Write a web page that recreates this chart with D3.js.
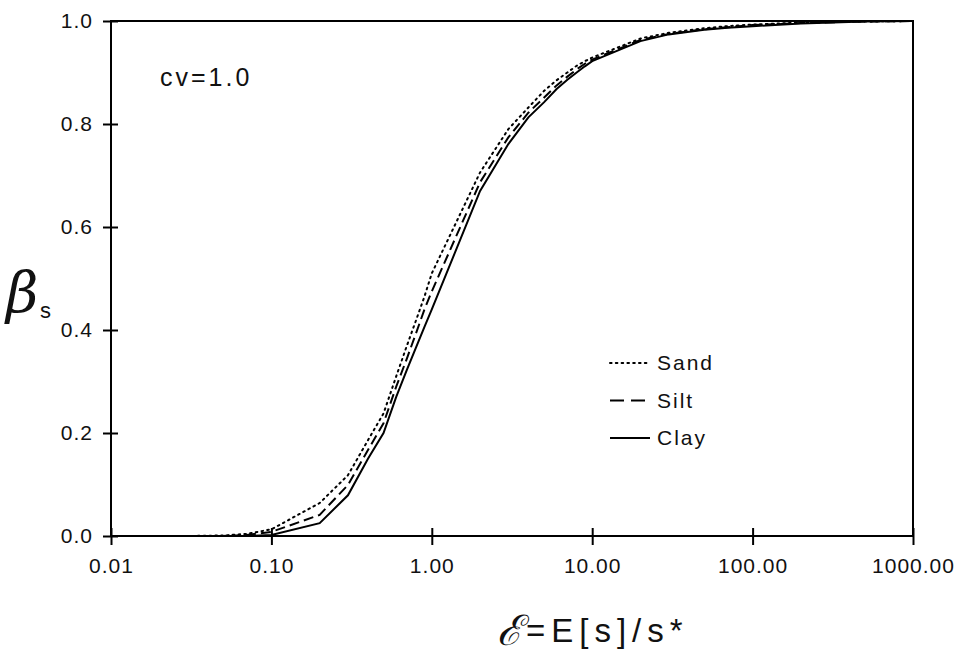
<!DOCTYPE html>
<html>
<head>
<meta charset="utf-8">
<script src="https://cdn.jsdelivr.net/npm/d3@7"></script>
<style>
  html, body { margin: 0; padding: 0; background: #fff; }
  svg { display: block; }
</style>
</head>
<body>
<svg id="chart" width="963" height="659"></svg>
<script>
'use strict';

// ── data ────────────────────────────────────────────────────────────────────
const ratio = [0.01, 0.02, 0.03, 0.05, 0.07, 0.1, 0.2, 0.3, 0.4, 0.5, 0.6, 0.7, 0.8, 0.9,
  1, 2, 3, 4, 5, 6, 7, 8, 9, 10, 20, 30, 50, 70, 100, 200, 500, 1000];

const sand = [0, 0, 0, 0.001, 0.004, 0.013, 0.064, 0.118, 0.186, 0.238, 0.31, 0.37, 0.42, 0.465,
  0.51, 0.706, 0.79, 0.832, 0.864, 0.885, 0.9, 0.913, 0.922, 0.929, 0.966, 0.977, 0.986, 0.99,
  0.993, 0.997, 0.999, 1.0];
const silt = [0, 0, 0, 0, 0.002, 0.008, 0.041, 0.099, 0.167, 0.219, 0.29, 0.345, 0.395, 0.44,
  0.475, 0.687, 0.774, 0.822, 0.851, 0.875, 0.892, 0.906, 0.917, 0.925, 0.963, 0.975, 0.984, 0.988,
  0.992, 0.996, 0.999, 1.0];
const clay = [0, 0, 0, 0, 0, 0.002, 0.025, 0.079, 0.15, 0.2, 0.27, 0.323, 0.367, 0.406,
  0.44, 0.67, 0.761, 0.813, 0.842, 0.868, 0.886, 0.9, 0.912, 0.922, 0.961, 0.974, 0.983, 0.987,
  0.99, 0.995, 0.999, 1.0];

const xTicks = [0.01, 0.1, 1, 10, 100, 1000];
const yTicks = [0, 0.2, 0.4, 0.6, 0.8, 1.0];

const seriesNames = ['Sand', 'Silt', 'Clay'];
const seriesDash = { Sand: '1.6 4.2', Silt: '10 5', Clay: null };

// ── layout ──────────────────────────────────────────────────────────────────
const FONT = '"Liberation Sans", Arial, sans-serif';
const L = 111, R = 913, T = 21, B = 536;

const svg = d3.select('#chart');

const x = d3.scaleLog().domain([0.01, 1000]).range([L, R]);
const y = d3.scaleLinear().domain([0, 1]).range([B, T]);

// frame
svg.append('rect')
  .attr('x', L).attr('y', T)
  .attr('width', R - L).attr('height', B - T)
  .attr('fill', 'none')
  .attr('stroke', '#000')
  .attr('stroke-width', 2);

// x axis (ticks cross the line)
const xAxis = svg.append('g')
  .attr('transform', `translate(0,${B})`)
  .call(d3.axisBottom(x).tickValues(xTicks).tickFormat(d3.format('.2f')).tickSize(9).tickPadding(13));
xAxis.select('.domain').remove();
xAxis.selectAll('.tick line').attr('y1', -8).attr('y2', 9).attr('stroke-width', 2);
xAxis.selectAll('.tick text')
  .attr('font-family', FONT).attr('font-size', 21)
  .attr('letter-spacing', 1).attr('fill', '#111');

// y axis
const yAxis = svg.append('g')
  .attr('transform', `translate(${L},0)`)
  .call(d3.axisLeft(y).tickValues(yTicks).tickFormat(d3.format('.1f')).tickSize(8).tickPadding(10));
yAxis.select('.domain').remove();
yAxis.selectAll('.tick line').attr('x1', -8).attr('x2', 7).attr('stroke-width', 2);
yAxis.selectAll('.tick text')
  .attr('font-family', FONT).attr('font-size', 21)
  .attr('letter-spacing', 1).attr('fill', '#111');

// ── curves ──────────────────────────────────────────────────────────────────
const valuesBy = { Sand: sand, Silt: silt, Clay: clay };
const line = d3.line()
  .x(d => x(d[0]))
  .y(d => y(d[1]));

seriesNames.forEach(name => {
  const pts = ratio.map((r, i) => [r, valuesBy[name][i]]);
  svg.append('path')
    .datum(pts)
    .attr('d', line)
    .attr('fill', 'none')
    .attr('stroke', '#000')
    .attr('stroke-width', 2)
    .attr('stroke-linecap', name === 'Sand' ? 'round' : 'butt')
    .attr('stroke-dasharray', seriesDash[name]);
});

// ── legend ──────────────────────────────────────────────────────────────────
const legend = svg.append('g').attr('transform', 'translate(610,363)');
seriesNames.forEach((name, i) => {
  const gy = i * 37.5;
  legend.append('line')
    .attr('x1', 0).attr('x2', 40)
    .attr('y1', gy).attr('y2', gy)
    .attr('stroke', '#000')
    .attr('stroke-width', 2)
    .attr('stroke-linecap', name === 'Sand' ? 'round' : 'butt')
    .attr('stroke-dasharray', name === 'Silt' ? '14 7' : seriesDash[name]);
  legend.append('text')
    .attr('x', 47).attr('y', gy)
    .attr('dy', '0.35em')
    .attr('font-family', FONT)
    .attr('font-size', 21)
    .attr('letter-spacing', 2)
    .attr('fill', '#111')
    .text(name);
});

// annotation
svg.append('text')
  .attr('x', 160).attr('y', 86)
  .attr('font-family', FONT)
  .attr('font-size', 25)
  .attr('letter-spacing', 3)
  .attr('fill', '#111')
  .text('cv=1.0');

// y label: β with subscript s
svg.append('text')
  .attr('x', 6).attr('y', 312)
  .attr('font-family', '"DejaVu Serif", serif')
  .attr('font-style', 'italic')
  .attr('font-size', 56)
  .attr('fill', '#111')
  .text('β');
svg.append('text')
  .attr('x', 40).attr('y', 318)
  .attr('font-family', FONT)
  .attr('font-size', 22)
  .attr('fill', '#111')
  .text('s');

// x label
svg.append('text')
  .attr('x', 497).attr('y', 645)
  .attr('font-family', '"DejaVu Serif", serif')
  .attr('font-style', 'italic')
  .attr('font-size', 42)
  .attr('fill', '#111')
  .text('ℰ');
svg.append('text')
  .attr('x', 526).attr('y', 642)
  .attr('font-family', FONT)
  .attr('font-size', 33)
  .attr('letter-spacing', 6)
  .attr('fill', '#111')
  .text('=E[s]/s*');
</script>
</body>
</html>
